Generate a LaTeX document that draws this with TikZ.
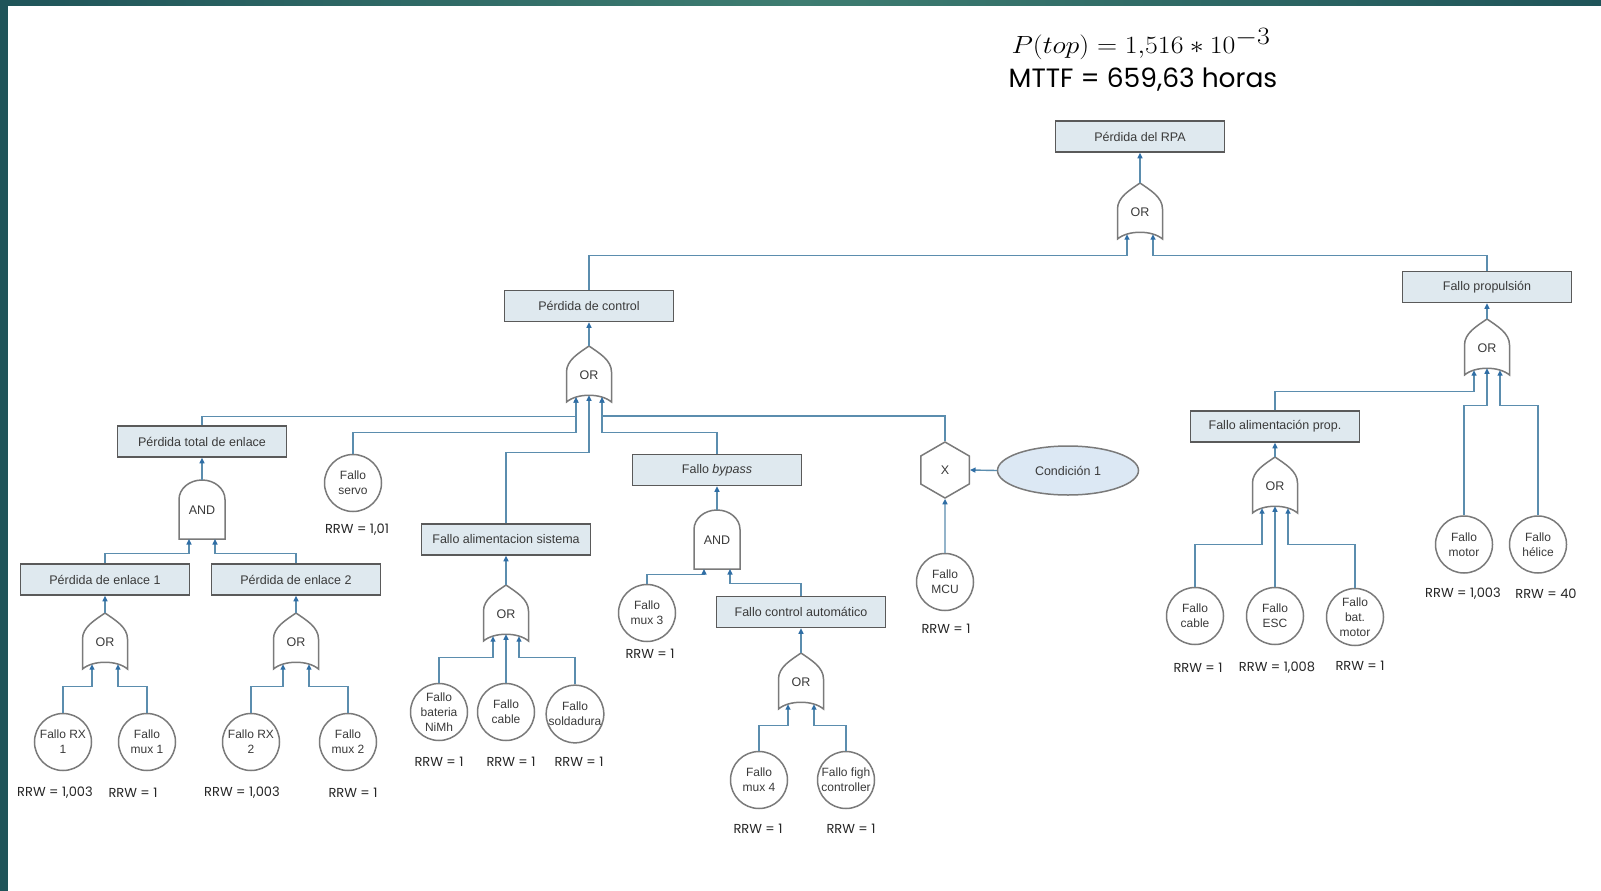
\documentclass[tikz,border=0pt]{standalone}
\usepackage{fontspec}
\setmainfont{Liberation Sans}
\newfontfamily\rrwfont{Poppins}
\usetikzlibrary{arrows.meta,shapes.geometric,calc}
\definecolor{linec}{HTML}{5B8DAE}
\definecolor{tipc}{HTML}{2F6EA5}
\definecolor{boxfill}{HTML}{DFE9EF}
\definecolor{boxborder}{HTML}{5A5A5A}
\definecolor{gatec}{HTML}{7A7A7A}
\definecolor{textc}{HTML}{3A3A3A}
\definecolor{tealA}{HTML}{1F5459}
\definecolor{tealB}{HTML}{3E7D71}
\definecolor{ellfill}{HTML}{DCE8F4}
\tikzset{
  conn/.style={draw=linec, line width=1.4pt},
  upar/.style={-{Triangle[length=5.5pt,width=5pt,color=tipc]}},
  evbox/.style={draw=boxborder, fill=boxfill, line width=1.5pt, minimum width=169pt, minimum height=31pt, inner sep=0pt, font=\fontsize{12.5}{14}\selectfont, text=textc},
  basic/.style={circle, draw=gatec, fill=white, line width=1.5pt, minimum size=57pt, inner sep=0pt, align=center, font=\fontsize{12}{15}\selectfont, text=textc},
  hexs/.style={regular polygon, regular polygon sides=6, shape border rotate=30, draw=gatec, fill=white, line width=1.5pt, minimum size=56pt, inner sep=0pt, font=\fontsize{12.5}{14}\selectfont, text=textc},
  condell/.style={ellipse, draw=gatec, fill=ellfill, line width=1.5pt, minimum width=141pt, minimum height=49pt, inner sep=0pt, font=\fontsize{12.5}{14}\selectfont, text=textc},
  gateborder/.style={draw=gatec, fill=white, line width=1.5pt},
  gatetext/.style={font=\fontsize{12.5}{14}\selectfont, text=textc, inner sep=0pt},
  rrw/.style={font=\rrwfont\fontsize{13}{15}\selectfont, text=black!85, inner sep=0pt},
  titlef/.style={font=\fontsize{33.5}{36}\selectfont, text=black, inner sep=0pt},
  mttff/.style={font=\rrwfont\fontsize{26.5}{30}\selectfont, text=black, inner sep=0pt},
  orgate/.pic={
    \draw[gateborder] (-22.5,28) -- (-22.5,-2) .. controls (-22.5,-14) and (-10,-21) .. (0,-28) .. controls (10,-21) and (22.5,-14) .. (22.5,-2) -- (22.5,28) .. controls (12,19) and (-12,19) .. cycle;
    \node[gatetext] (-c) at (0,1) {OR};
    \coordinate (-out) at (0,-28);
    \coordinate (-a) at (-13,23.2);
    \coordinate (-b) at (0,21.3);
    \coordinate (-d) at (13,23.2);
  },
  andgate/.pic={
    \draw[gateborder] (-23,29.5) -- (-23,-10) arc[start angle=180,end angle=360,x radius=23,y radius=19.5] -- (23,29.5) -- cycle;
    \node[gatetext] (-c) at (0,1) {AND};
    \coordinate (-out) at (0,-29.5);
    \coordinate (-a) at (-13,29.5);
    \coordinate (-d) at (13,29.5);
  }
}
\begin{document}
\begin{tikzpicture}[x=1pt,y=-1pt]
\fill[white] (0,0) rectangle (1601,891);
\useasboundingbox (0,0) rectangle (1601,891);
\fill[tealA] (0,0) rectangle (8,891);
\shade[left color=tealA, right color=tealA, middle color=tealB] (0,0) rectangle (1601,6);

% title
\node[titlef] (ptop) at (1141,44) {\scalebox{1.12}[1]{$P(top) = 1{,}516 \ast 10^{-3}$}};
\node[mttff] (mttf) at (1143,80) {MTTF = 659,63 horas};

% top
\node[evbox] (rpa) at (1140,136.5) {Pérdida del RPA};
\pic (g0) at (1140,211) {orgate};
\draw[conn,upar] (g0-out) -- (rpa.south);

\node[evbox] (pc) at (589,306) {Pérdida de control};
\pic (g1) at (589,374) {orgate};
\node[evbox] (fp) at (1487,287) {Fallo propulsión};
\draw[conn,upar] (pc.north) -- ++(0,-34.5) -| (g0-a);
\draw[conn,upar] (fp.north) -- ++(0,-15.5) -| (g0-d);
\draw[conn,upar] (g1-out) -- (pc.south);

% left branch
\node[evbox] (pte) at (202,441.5) {Pérdida total de enlace};
\pic (g2) at (202,509.5) {andgate};
\draw[conn,upar] (g2-out) -- (pte.south);
\draw[conn,upar] (pte.north) -- ++(0,-9) -| (g1-a);
\node[evbox] (pe1) at (105,579.5) {Pérdida de enlace 1};
\node[evbox] (pe2) at (296,579.5) {Pérdida de enlace 2};
\draw[conn,upar] (pe1.north) -- ++(0,-10) -| (g2-a);
\draw[conn,upar] (pe2.north) -- ++(0,-10) -| (g2-d);
\pic (g3) at (105,641) {orgate};
\pic (g4) at (296,641) {orgate};
\draw[conn,upar] (g3-out) -- (pe1.south);
\draw[conn,upar] (g4-out) -- (pe2.south);
\node[basic] (rx1) at (63,742) {Fallo RX\\1};
\node[basic] (mux1) at (147,742) {Fallo\\mux 1};
\node[basic] (rx2) at (251,742) {Fallo RX\\2};
\node[basic] (mux2) at (348,742) {Fallo\\mux 2};
\draw[conn,upar] (rx1.north) -- ++(0,-26.5) -| (g3-a);
\draw[conn,upar] (mux1.north) -- ++(0,-26.5) -| (g3-d);
\draw[conn,upar] (rx2.north) -- ++(0,-26.5) -| (g4-a);
\draw[conn,upar] (mux2.north) -- ++(0,-26.5) -| (g4-d);
\node[rrw] (r1) at (55,793) {RRW = 1,003};
\node[rrw] (r2) at (133,793) {RRW = 1};
\node[rrw] (r3) at (242,793) {RRW = 1,003};
\node[rrw] (r4) at (353,793) {RRW = 1};

% servo
\node[basic] (servo) at (353,483) {Fallo\\servo};
\draw[conn,upar] (servo.north) -- ++(0,-21) -| (g1-a);
\node[rrw] (r5) at (357,530) {RRW = 1,01};

% alimentacion sistema
\node[evbox] (fas) at (506,539.5) {Fallo alimentacion sistema};
\draw[conn,upar] (fas.north) -- ++(0,-71) -| (g1-b);
\pic (g5) at (506,613) {orgate};
\draw[conn,upar] (g5-out) -- (fas.south);
\node[basic] (bat) at (439,712) {Fallo\\bateria\\NiMh};
\node[basic] (cab1) at (506,712) {Fallo\\cable};
\node[basic] (sold) at (575,714) {Fallo\\soldadura};
\draw[conn,upar] (bat.north) -- ++(0,-25) -| (g5-a);
\draw[conn,upar] (cab1.north) -- (g5-b);
\draw[conn,upar] (sold.north) -- ++(0,-27) -| (g5-d);
\node[rrw] (r6) at (439,762) {RRW = 1};
\node[rrw] (r7) at (511,762) {RRW = 1};
\node[rrw] (r8) at (579,762) {RRW = 1};

% bypass
\node[evbox] (fb) at (717,470) {Fallo \textit{bypass}};
\draw[conn,upar] (fb.north) -- ++(0,-21) -| (g1-d);
\pic (g6) at (717,539.5) {andgate};
\draw[conn,upar] (g6-out) -- (fb.south);
\node[basic] (mux3) at (647,613) {Fallo\\mux 3};
\draw[conn,upar] (mux3.north) -- ++(0,-9.5) -| (g6-a);
\node[rrw] (r9) at (650,654) {RRW = 1};
\node[evbox] (fca) at (801,612) {Fallo control automático};
\draw[conn,upar] (fca.north) -- ++(0,-12) -| (g6-d);
\pic (g7) at (801,681) {orgate};
\draw[conn,upar] (g7-out) -- (fca.south);
\node[basic] (mux4) at (759,780) {Fallo\\mux 4};
\node[basic] (flc) at (846,780) {Fallo figh\\controller};
\draw[conn,upar] (mux4.north) -- ++(0,-25.5) -| (g7-a);
\draw[conn,upar] (flc.north) -- ++(0,-25.5) -| (g7-d);
\node[rrw] (r10) at (758,829) {RRW = 1};
\node[rrw] (r11) at (851,829) {RRW = 1};

% hexagon
\node[hexs] (hex) at (945,470) {X};
\draw[conn,upar] (hex.north) -- ++(0,-25) -| (g1-d);
\node[condell] (cond) at (1068,470.5) {Condición 1};
\draw[conn,upar] (cond.west) -- (hex.east);
\node[basic] (mcu) at (945,582) {Fallo\\MCU};
\draw[conn,upar] (mcu.north) -- (hex.south);
\node[rrw] (r12) at (946,629) {RRW = 1};

% propulsion
\pic (g8) at (1487,347) {orgate};
\draw[conn,upar] (g8-out) -- (fp.south);
\node[evbox] (fap) at (1275,426.5) {Fallo alimentación prop.};
\draw[conn,upar] (fap.north) -- ++(0,-19) -| (g8-a);
\node[basic] (mot) at (1464,544.5) {Fallo\\motor};
\node[basic] (hel) at (1538,544.5) {Fallo\\hélice};
\draw[conn,upar] (mot.north) -- ++(0,-110) -| (g8-b);
\draw[conn,upar] (hel.north) -- ++(0,-110) -| (g8-d);
\node[rrw] (r13) at (1463,594) {RRW = 1,003};
\node[rrw] (r14) at (1546,594) {RRW = 40};
\pic (g9) at (1275,485) {orgate};
\draw[conn,upar] (g9-out) -- (fap.south);
\node[basic] (cab2) at (1195,616) {Fallo\\cable};
\node[basic] (esc) at (1275,616) {Fallo\\ESC};
\node[basic] (batm) at (1355,617) {Fallo\\bat.\\motor};
\draw[conn,upar] (cab2.north) -- ++(0,-42.5) -| (g9-a);
\draw[conn,upar] (esc.north) -- (g9-b);
\draw[conn,upar] (batm.north) -- ++(0,-43.5) -| (g9-d);
\node[rrw] (r15) at (1198,668) {RRW = 1};
\node[rrw] (r16) at (1277,668) {RRW = 1,008};
\node[rrw] (r17) at (1360,666) {RRW = 1};
\end{tikzpicture}
\end{document}
